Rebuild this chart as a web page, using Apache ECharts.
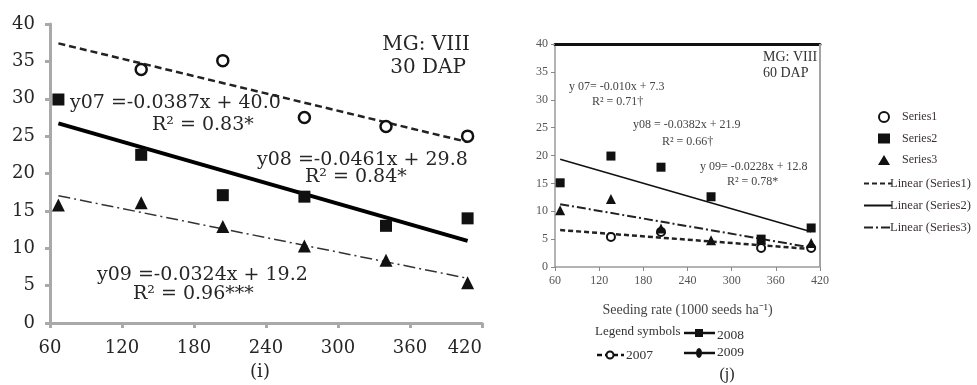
<!DOCTYPE html>
<html>
<head>
<meta charset="utf-8">
<script src="https://cdn.jsdelivr.net/npm/echarts@6/dist/echarts.min.js"></script>
<style>
  html, body { margin: 0; padding: 0; background: #fff; }
  #chart { width: 977px; height: 385px; }
</style>
</head>
<body>
<div id="chart"></div>
<script>
// Seeding rates (1000 seeds ha-1) and axis ticks
const seedingRate = [67, 136, 204, 272, 340, 408];
const xTicks = [60, 120, 180, 240, 300, 360, 420];
const yTicks = [0, 5, 10, 15, 20, 25, 30, 35, 40];
const yearTags = ['07', '08', '09'];

// MG VIII, 30 DAP
const dap30_2007 = [null, 33.9, 35.1, 27.5, 26.3, 25.0];
const dap30_2008 = [29.9, 22.5, 17.1, 16.9, 13.0, 14.0];
const dap30_2009 = [15.8, 16.1, 12.9, 10.3, 8.4, 5.4];
const dap30Slope = ['-0.0387', '-0.0461', '-0.0324'];
const dap30Intercept = ['40.0', '29.8', '19.2'];
const dap30R2 = ['0.83*', '0.84*', '0.96***'];

// MG VIII, 60 DAP
const dap60_2007 = [null, 5.4, 6.3, null, 3.4, 3.4];
const dap60_2008 = [15.1, 19.9, 17.9, 12.6, 5.0, 7.0];
const dap60_2009 = [10.2, 12.2, 6.9, 4.8, 4.9, 4.3];
const dap60Slope = ['-0.010', '-0.0382', '-0.0228'];
const dap60Intercept = ['7.3', '21.9', '12.8'];
const dap60R2 = ['0.71\u2020', '0.66\u2020', '0.78*'];

const pairs = vals => seedingRate.map((x, i) => [x, vals[i]]).filter(p => p[1] != null);
// regression line across the sampled seeding-rate range
const fitLine = (b, a) => [seedingRate[0], seedingRate[seedingRate.length - 1]]
  .map(x => [x, parseFloat(a) + parseFloat(b) * x]);

const SERIF_L = 'DejaVu Serif';
const SERIF_R = 'Liberation Serif';
const INK = '#262626';

const chart = echarts.init(document.getElementById('chart'), null, { renderer: 'canvas' });

const leftAxisStyle = { color: '#a9a9a9', width: 3 };
const rightAxisStyle = { color: '#9a9a9a', width: 1.5 };

function text(x, y, str, size, font, color, align) {
  return {
    type: 'text', x: x, y: y, silent: true,
    style: { text: str, fontSize: size, fontFamily: font, fill: color,
             align: align || 'left', verticalAlign: 'middle' }
  };
}

const graphics = [
  // panel (i) labels
  text(470, 45, 'MG: VIII', 20, SERIF_L, INK, 'right'),
  text(466, 68, '30 DAP', 20, SERIF_L, INK, 'right'),
  text(70, 103, 'y' + yearTags[0] + ' =' + dap30Slope[0] + 'x + ' + dap30Intercept[0], 19, SERIF_L, INK),
  text(152, 125, 'R\u00b2 = ' + dap30R2[0], 19, SERIF_L, INK),
  text(257, 160, 'y' + yearTags[1] + ' =' + dap30Slope[1] + 'x + ' + dap30Intercept[1], 19, SERIF_L, INK),
  text(305, 177, 'R\u00b2 = ' + dap30R2[1], 19, SERIF_L, INK),
  text(97, 275, 'y' + yearTags[2] + ' =' + dap30Slope[2] + 'x + ' + dap30Intercept[2], 19, SERIF_L, INK),
  text(133, 294, 'R\u00b2 = ' + dap30R2[2], 19, SERIF_L, INK),
  text(260, 372, '(i)', 18, SERIF_L, INK, 'center'),

  // panel (j) labels
  text(763, 57, 'MG: VIII', 14, SERIF_R, '#333', 'left'),
  text(763, 73, '60 DAP', 14, SERIF_R, '#333', 'left'),
  text(569, 87, 'y ' + yearTags[0] + '= ' + dap60Slope[0] + 'x + ' + dap60Intercept[0], 12, SERIF_R, '#444'),
  text(592, 102, 'R\u00b2 = ' + dap60R2[0], 12, SERIF_R, '#444'),
  text(633, 125, 'y' + yearTags[1] + ' = ' + dap60Slope[1] + 'x + ' + dap60Intercept[1], 12, SERIF_R, '#444'),
  text(662, 142, 'R\u00b2 = ' + dap60R2[1], 12, SERIF_R, '#444'),
  text(700, 167, 'y ' + yearTags[2] + '= ' + dap60Slope[2] + 'x + ' + dap60Intercept[2], 12, SERIF_R, '#444'),
  text(727, 182, 'R\u00b2 = ' + dap60R2[2], 12, SERIF_R, '#444'),

  // year key under panel (j)
  text(595, 332, 'Legend symbols', 13, SERIF_R, '#333'),
  { type: 'line', silent: true, shape: { x1: 684, y1: 333, x2: 715, y2: 333 }, style: { stroke: '#111', lineWidth: 2.5 } },
  { type: 'rect', silent: true, shape: { x: 695, y: 329, width: 8, height: 8 }, style: { fill: '#111' } },
  text(717, 335, '2008', 13.5, SERIF_R, '#333'),
  { type: 'line', silent: true, shape: { x1: 597, y1: 355, x2: 624, y2: 355 }, style: { stroke: '#111', lineWidth: 2.5, lineDash: [5, 3] } },
  { type: 'circle', silent: true, shape: { cx: 610, cy: 355, r: 3.5 }, style: { fill: '#fff', stroke: '#111', lineWidth: 2 } },
  text(626, 355, '2007', 13.5, SERIF_R, '#333'),
  { type: 'line', silent: true, shape: { x1: 684, y1: 353, x2: 715, y2: 353 }, style: { stroke: '#111', lineWidth: 2.5 } },
  { type: 'ellipse', silent: true, shape: { cx: 699, cy: 353, rx: 3, ry: 5 }, style: { fill: '#111' } },
  text(717, 352, '2009', 13.5, SERIF_R, '#333'),
  text(727, 375, '(j)', 16, SERIF_R, '#222', 'center')
];

function scatter(name, xi, data, symbol, size, open) {
  return {
    name: name, type: 'scatter', xAxisIndex: xi, yAxisIndex: xi === 0 ? 0 : 1,
    data: data, symbol: symbol, symbolSize: size, z: 4, silent: true,
    itemStyle: open
      ? { color: '#fff', borderColor: '#111', borderWidth: xi === 0 ? 2.5 : 2, opacity: 1 }
      : { color: '#111', opacity: 1 }
  };
}
function trend(name, xi, data, width, dash, color) {
  return {
    name: name, type: 'line', xAxisIndex: xi, yAxisIndex: xi === 0 ? 0 : 1,
    data: data, symbol: 'none', z: 3, silent: true,
    itemStyle: { color: color },
    lineStyle: { color: color, width: width, type: dash }
  };
}

const frameRight = {
  // right-hand frame of panel (j) at the end of the seeding-rate axis
  name: 'frame', type: 'line', xAxisIndex: 1, yAxisIndex: 1, clip: false,
  data: [[xTicks[xTicks.length - 1], yTicks[0]], [xTicks[xTicks.length - 1], yTicks[yTicks.length - 1]]],
  symbol: 'none', silent: true, z: 2,
  lineStyle: { color: '#a3a3a3', width: 2, type: 'solid' }
};

const option = {
  animation: false,
  backgroundColor: '#fff',
  grid: [
    { left: 50, top: 24, width: 432, height: 299, containLabel: false, outerBoundsMode: 'none' },
    { left: 555, top: 44, width: 265, height: 223, containLabel: false, outerBoundsMode: 'none' }
  ],
  xAxis: [
    {
      gridIndex: 0, type: 'value', min: xTicks[0], max: xTicks[xTicks.length - 1], interval: xTicks[1] - xTicks[0],
      axisLine: { show: true, lineStyle: leftAxisStyle },
      axisTick: { show: true, length: 5, lineStyle: leftAxisStyle },
      axisLabel: { fontFamily: SERIF_L, fontSize: 18, color: INK, margin: 16, alignMaxLabel: 'right' },
      splitLine: { show: false }
    },
    {
      gridIndex: 1, type: 'value', min: xTicks[0], max: xTicks[xTicks.length - 1], interval: xTicks[1] - xTicks[0],
      axisLine: { show: true, lineStyle: rightAxisStyle },
      axisTick: { show: true, length: 4, lineStyle: { color: '#888', width: 1 } },
      axisLabel: { fontFamily: SERIF_R, fontSize: 12, color: '#555', margin: 8 },
      splitLine: { show: false },
      name: 'Seeding rate (1000 seeds ha\u207b\u00b9)', nameLocation: 'middle', nameGap: 36,
      nameTextStyle: { fontFamily: SERIF_R, fontSize: 14, color: '#444' }
    },
    {
      gridIndex: 1, type: 'value', position: 'top', min: xTicks[0], max: xTicks[xTicks.length - 1],
      axisLine: { show: true, onZero: false, lineStyle: { color: '#111', width: 3 } },
      axisTick: { show: false }, axisLabel: { show: false }, splitLine: { show: false }
    }
  ],
  yAxis: [
    {
      gridIndex: 0, type: 'value', min: yTicks[0], max: yTicks[yTicks.length - 1], interval: yTicks[1] - yTicks[0],
      axisLine: { show: true, lineStyle: leftAxisStyle },
      axisTick: { show: true, length: 5, lineStyle: leftAxisStyle },
      axisLabel: { fontFamily: SERIF_L, fontSize: 18, color: INK, margin: 15 },
      splitLine: { show: false }
    },
    {
      gridIndex: 1, type: 'value', min: yTicks[0], max: yTicks[yTicks.length - 1], interval: yTicks[1] - yTicks[0],
      axisLine: { show: true, lineStyle: rightAxisStyle },
      axisTick: { show: true, length: 4, lineStyle: { color: '#888', width: 1 } },
      axisLabel: { fontFamily: SERIF_R, fontSize: 12, color: '#555', margin: 7 },
      splitLine: { show: false }
    }
  ],
  legend: [
    {
      data: ['Series1', 'Series2', 'Series3'], orient: 'vertical', left: 873, top: 106,
      itemWidth: 12, itemHeight: 10, itemGap: 9.5, selectedMode: false,
      textStyle: { fontFamily: SERIF_R, fontSize: 12, color: '#3a3030', padding: [0, 0, 0, 7] }
    },
    {
      data: ['Linear (Series1)', 'Linear (Series2)', 'Linear (Series3)'], orient: 'vertical', left: 858, top: 172,
      itemWidth: 28, itemHeight: 10, itemGap: 9, selectedMode: false,
      itemStyle: { opacity: 0 },
      textStyle: { fontFamily: SERIF_R, fontSize: 12.5, color: '#3a3030', padding: [0, 0, 0, -7] }
    }
  ],
  graphic: graphics,
  series: [
    frameRight,
    // panel (i): 30 DAP
    trend('Linear 2007 (30 DAP)', 0, fitLine(dap30Slope[0], dap30Intercept[0]), 2.5, [7, 4], '#222'),
    trend('Linear 2008 (30 DAP)', 0, fitLine(dap30Slope[1], dap30Intercept[1]), 4, 'solid', '#000'),
    trend('Linear 2009 (30 DAP)', 0, fitLine(dap30Slope[2], dap30Intercept[2]), 1.5, [12, 4, 2, 4], '#333'),
    scatter('2007 (30 DAP)', 0, pairs(dap30_2007), 'circle', 11, true),
    scatter('2008 (30 DAP)', 0, pairs(dap30_2008), 'rect', 12, false),
    scatter('2009 (30 DAP)', 0, pairs(dap30_2009), 'triangle', 13, false),

    // panel (j): 60 DAP
    trend('Linear (Series1)', 1, fitLine(dap60Slope[0], dap60Intercept[0]), 2.5, [5, 3], '#222'),
    trend('Linear (Series2)', 1, fitLine(dap60Slope[1], dap60Intercept[1]), 1.5, 'solid', '#111'),
    trend('Linear (Series3)', 1, fitLine(dap60Slope[2], dap60Intercept[2]), 2, [9, 3, 2, 3], '#222'),
    scatter('Series1', 1, pairs(dap60_2007), 'circle', 8, true),
    scatter('Series2', 1, pairs(dap60_2008), 'rect', 9, false),
    scatter('Series3', 1, pairs(dap60_2009), 'triangle', 10, false)
  ]
};

chart.setOption(option);
</script>
</body>
</html>
